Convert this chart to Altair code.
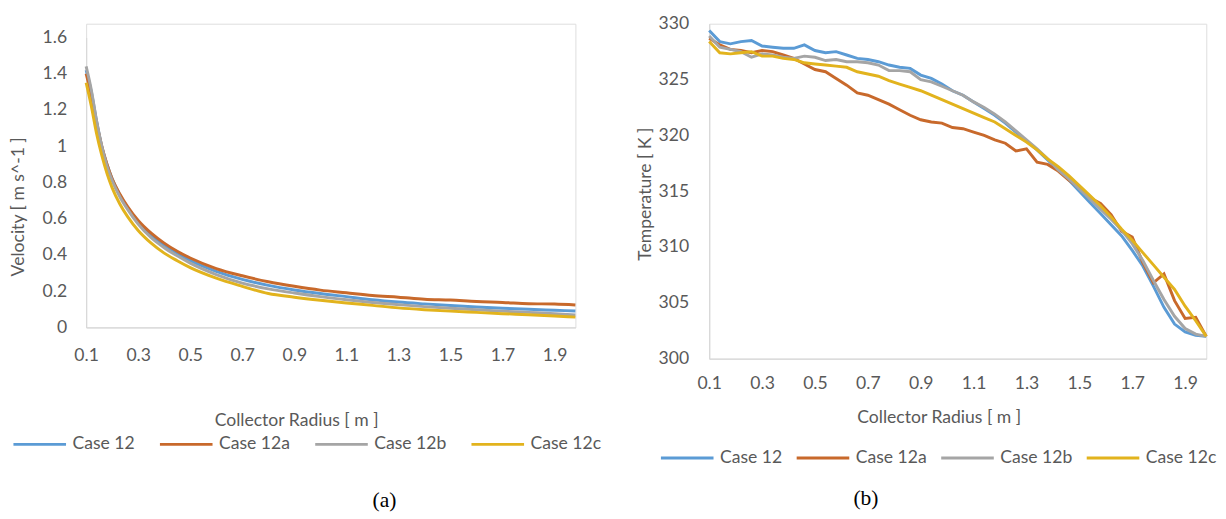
import altair as alt
import pandas as pd

# ---------------- data ----------------
cases = ["Case 12", "Case 12a", "Case 12b", "Case 12c"]
colors = ["#5B9BD5", "#C8692B", "#A5A5A5", "#E2B31D"]

# (a) velocity
radius_v = [0.10, 0.12, 0.14, 0.16, 0.18, 0.20, 0.23, 0.26, 0.30, 0.35, 0.40, 0.45,
            0.50, 0.60, 0.70, 0.80, 0.90, 1.00, 1.10, 1.20, 1.30, 1.40, 1.50, 1.60,
            1.70, 1.80, 1.90, 1.98]
vel_case12 = [1.42, 1.30, 1.14, 1.00, 0.90, 0.82, 0.73, 0.66, 0.585, 0.51, 0.455, 0.41,
              0.37, 0.31, 0.265, 0.232, 0.207, 0.187, 0.170, 0.153, 0.140, 0.130, 0.121, 0.113,
              0.106, 0.100, 0.095, 0.091]
vel_case12a = [1.40, 1.28, 1.13, 1.00, 0.90, 0.82, 0.735, 0.665, 0.59, 0.52, 0.465, 0.42,
               0.383, 0.325, 0.285, 0.252, 0.227, 0.206, 0.191, 0.176, 0.167, 0.156, 0.151, 0.143,
               0.138, 0.131, 0.129, 0.124]
vel_case12b = [1.44, 1.31, 1.14, 1.00, 0.89, 0.81, 0.72, 0.65, 0.57, 0.495, 0.44, 0.395,
               0.355, 0.292, 0.245, 0.213, 0.190, 0.170, 0.153, 0.138, 0.126, 0.115, 0.106, 0.098,
               0.090, 0.083, 0.076, 0.069]
vel_case12c = [1.35, 1.22, 1.07, 0.95, 0.85, 0.77, 0.68, 0.61, 0.535, 0.465, 0.41, 0.368,
               0.33, 0.272, 0.227, 0.187, 0.167, 0.150, 0.135, 0.122, 0.108, 0.098, 0.090, 0.083,
               0.076, 0.070, 0.063, 0.057]

# (b) temperature
radius_t = [0.10, 0.14, 0.18, 0.22, 0.26, 0.30, 0.34, 0.38, 0.42, 0.46, 0.50, 0.54,
            0.58, 0.62, 0.66, 0.70, 0.74, 0.78, 0.82, 0.86, 0.90, 0.94, 0.98, 1.02,
            1.06, 1.10, 1.14, 1.18, 1.22, 1.26, 1.30, 1.34, 1.38, 1.42, 1.46, 1.50,
            1.54, 1.58, 1.62, 1.66, 1.70, 1.74, 1.78, 1.82, 1.86, 1.90, 1.94, 1.98]
temp_case12 = [329.4, 328.4, 328.2, 328.4, 328.5, 328.0, 327.9, 327.8, 327.8, 328.1, 327.6, 327.4,
               327.5, 327.2, 326.9, 326.8, 326.6, 326.3, 326.1, 326.0, 325.4, 325.1, 324.6, 324.0,
               323.6, 323.0, 322.4, 321.8, 321.1, 320.3, 319.5, 318.7, 317.8, 316.9, 316.0, 315.0,
               314.0, 313.0, 312.0, 311.0, 309.7, 308.3, 306.5, 304.6, 303.1, 302.4, 302.1, 302.0]
temp_case12a = [328.7, 328.1, 327.7, 327.6, 327.4, 327.6, 327.5, 327.2, 326.9, 326.4, 325.9, 325.7,
                325.1, 324.5, 323.8, 323.6, 323.2, 322.8, 322.3, 321.8, 321.4, 321.2, 321.1, 320.7,
                320.6, 320.3, 320.0, 319.6, 319.3, 318.6, 318.8, 317.6, 317.4, 316.8, 316.0, 315.3,
                314.4, 313.9, 312.9, 311.4, 310.9, 308.6, 306.8, 307.6, 305.2, 303.6, 303.7, 302.0]
temp_case12b = [328.9, 327.9, 327.7, 327.5, 327.0, 327.3, 327.2, 327.0, 326.9, 327.1, 327.0, 326.7,
                326.8, 326.6, 326.6, 326.5, 326.3, 325.8, 325.8, 325.7, 325.0, 324.8, 324.4, 324.0,
                323.6, 323.0, 322.5, 321.9, 321.2, 320.4, 319.6, 318.8, 317.9, 316.9, 316.1, 315.2,
                314.3, 313.4, 312.5, 311.5, 310.3, 308.8, 307.0, 305.3, 303.8, 302.7, 302.2, 302.0]
temp_case12c = [328.4, 327.4, 327.3, 327.4, 327.5, 327.1, 327.1, 326.9, 326.8, 326.5, 326.4, 326.3,
                326.2, 326.1, 325.7, 325.5, 325.3, 324.9, 324.6, 324.3, 324.0, 323.6, 323.2, 322.8,
                322.4, 322.0, 321.6, 321.2, 320.6, 320.0, 319.4, 318.7, 317.9, 317.2, 316.4, 315.5,
                314.6, 313.7, 312.7, 311.6, 310.6, 309.5, 308.4, 307.3, 306.2, 304.7, 303.4, 302.0]

x_ticks = [0.1, 0.3, 0.5, 0.7, 0.9, 1.1, 1.3, 1.5, 1.7, 1.9]
vel_ticks = [0, 0.2, 0.4, 0.6, 0.8, 1.0, 1.2, 1.4, 1.6]
temp_ticks = [300, 305, 310, 315, 320, 325, 330]


def to_long(xs, series, name):
    rows = []
    for case, vals in zip(cases, series):
        for i, (x, v) in enumerate(zip(xs, vals)):
            rows.append({"r": x, name: v, "case": case, "idx": i})
    return pd.DataFrame(rows)


vel_df = to_long(radius_v, [vel_case12, vel_case12a, vel_case12b, vel_case12c], "v")
temp_df = to_long(radius_t, [temp_case12, temp_case12a, temp_case12b, temp_case12c], "t")

FONT = "Lato"
GREY = "#595959"
common_axis = dict(domainColor="#D9D9D9", domainWidth=1.3, ticks=False, grid=False,
                   labelColor=GREY, titleColor=GREY, labelFont=FONT, titleFont=FONT,
                   labelFontSize=18, titleFontSize=18, titleFontWeight="normal")


def legend(x, y, pad):
    return alt.Legend(orient="none", legendX=x, legendY=y, direction="horizontal",
                      columns=4, title=None, symbolType="stroke", symbolSize=2900,
                      symbolStrokeWidth=3, labelFont=FONT, labelFontSize=18,
                      labelColor=GREY, labelOffset=5, columnPadding=pad)


# ---------------- panel (a) ----------------
W_A, H_A = 501, 311
vel_chart = alt.Chart(vel_df).mark_line(strokeWidth=3, interpolate="monotone").encode(
    x=alt.X("r:Q", scale=alt.Scale(domain=[0.1, 1.98], nice=False, zero=False),
            axis=alt.Axis(values=x_ticks, format=".1f", labelFlush=False, labelPadding=20,
                          title="Collector Radius [ m ]", titleX=215, titleY=95,
                          titleBaseline="middle", **common_axis)),
    y=alt.Y("v:Q", scale=alt.Scale(domain=[0, 1.6], nice=False, range=[H_A, 14]),
            axis=alt.Axis(values=vel_ticks, format="~g", labelPadding=20,
                          title="Velocity [ m s^-1 ]", titleX=-69, titleY=187,
                          titleBaseline="middle", **common_axis)),
    color=alt.Color("case:N", scale=alt.Scale(domain=cases, range=colors),
                    legend=legend(-76, 402, 19)),
    order="idx:Q",
).properties(width=W_A, height=H_A,
             title=alt.TitleParams("(a)", orient="bottom", font="Liberation Serif",
                                   fontSize=22, fontWeight="normal", color="#000000",
                                   anchor="middle", dx=55, offset=38))

# ---------------- panel (b) ----------------
W_B, H_B = 509, 343
temp_chart = alt.Chart(temp_df).mark_line(strokeWidth=3, interpolate="linear").encode(
    x=alt.X("r:Q", scale=alt.Scale(domain=[0.1, 1.98], nice=False, zero=False),
            axis=alt.Axis(values=x_ticks, format=".1f", labelFlush=False, labelPadding=17,
                          title="Collector Radius [ m ]", titleX=235, titleY=60,
                          titleBaseline="middle", **common_axis)),
    y=alt.Y("t:Q", scale=alt.Scale(domain=[300, 330], nice=False, zero=False),
            axis=alt.Axis(values=temp_ticks, labelPadding=21,
                          title="Temperature [ K ]", titleX=-65, titleY=174,
                          titleBaseline="middle", **common_axis)),
    color=alt.Color("case:N", scale=alt.Scale(domain=cases, range=colors),
                    legend=legend(-51, 416, 8)),
    order="idx:Q",
).properties(width=W_B, height=H_B,
             title=alt.TitleParams("(b)", orient="bottom", font="Liberation Serif",
                                   fontSize=22, fontWeight="normal", color="#000000",
                                   anchor="middle", dx=-94, offset=22))

chart = alt.hconcat(vel_chart, temp_chart, spacing=34).resolve_scale(
    color="independent").resolve_legend(color="independent").properties(
    padding={"left": 1, "top": 0, "right": 0, "bottom": 0}
).configure_view(strokeWidth=0).configure(background="white")

chart.save("out.html", embed_options={"renderer": "svg", "actions": False})
